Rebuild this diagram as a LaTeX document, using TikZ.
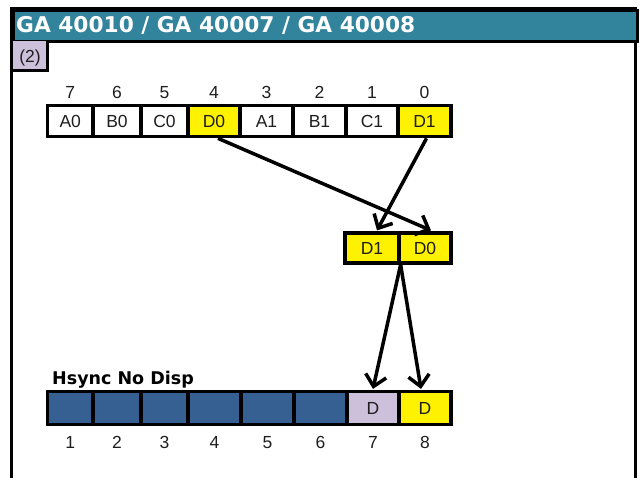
\documentclass[tikz,border=0pt]{standalone}
\usepackage{fontspec}
\setmainfont{Liberation Sans}
\newfontfamily\titlefont{DejaVu Sans}
\usetikzlibrary{arrows.meta}
\definecolor{teal1}{HTML}{31849B}
\definecolor{lilac}{HTML}{CCC0DA}
\definecolor{cellblue}{HTML}{376092}
\definecolor{txtgray}{HTML}{1E1E1E}
\begin{document}
\begin{tikzpicture}[x=1pt,y=-1pt,
  cell/.style={draw=black, line width=3.2pt, inner sep=0pt, text height=12.5pt, text depth=0pt,
               font=\fontsize{17.5}{17.5}\selectfont, text=txtgray},
  idx/.style={inner sep=0pt, anchor=base, font=\fontsize{17.5}{17.5}\selectfont, text=txtgray},
  arr/.style={line width=3.5pt, -{Straight Barb[length=11pt,width=21pt]}}]
\useasboundingbox (0,0) rectangle (640,477);
\clip (0,0) rectangle (640,477);
% frame
\draw[line width=3.2pt] (11.5,500) -- (11.5,9) -- (635.5,9) -- (635.5,500);
% header
\node[draw=black, line width=3.2pt, fill=teal1, minimum width=624pt, minimum height=30.5pt,
      anchor=north west, inner sep=0pt] (hdr) at (11.5,9) {};
\node[anchor=base west, inner sep=0pt, text=white,
      font=\titlefont\bfseries\fontsize{21.7}{21.7}\selectfont] (title) at (16,32) {GA 40010 / GA 40007 / GA 40008};
% tag (2)
\fill[lilac] (13,41) rectangle (46,69);
\draw[line width=3.2pt] (47.5,39.5) -- (47.5,70.5) -- (11.5,70.5);
\node[idx] (tag) at (30,62) {(2)};
% top register
\foreach \n/\a/\b/\t/\c in {7/47.5/93/A0/white, 6/93/141/B0/white, 5/141/188/C0/white, 4/188/240/D0/yellow,
                             3/240/293/A1/white, 2/293/346/B1/white, 1/346/398/C1/white, 0/398/451/D1/yellow}{
  \pgfmathsetmacro\w{\b-\a}
  \pgfmathsetmacro\m{(\a+\b)/2}
  \node[cell, fill=\c, minimum width=\w pt, minimum height=31.5pt] (t\n) at (\m,121) {\t};
  \node[idx] (tn\n) at (\m,98.5) {\n};
}
% middle pair
\node[cell, fill=yellow, minimum width=54pt, minimum height=30pt] (m1) at (372,248) {D1};
\node[cell, fill=yellow, minimum width=52pt, minimum height=30pt] (m0) at (425,248) {D0};
% bottom register
\foreach \n/\a/\b/\t/\c in {1/47.5/93//cellblue, 2/93/141//cellblue, 3/141/188//cellblue, 4/188/241//cellblue,
                             5/241/294//cellblue, 6/294/347//cellblue, 7/347/399/D/lilac, 8/399/451/D/yellow}{
  \pgfmathsetmacro\w{\b-\a}
  \pgfmathsetmacro\m{(\a+\b)/2}
  \node[cell, fill=\c, minimum width=\w pt, minimum height=33pt] (b\n) at (\m,408) {\t};
  \node[idx] (bn\n) at (\m,448.5) {\n};
}
\node[anchor=base west, inner sep=0pt, font=\titlefont\bfseries\fontsize{17.5}{17.5}\selectfont] (hs) at (52,384) {Hsync No Disp};
% arrows
\draw[arr] ([xshift=4pt]t4.south) -- ([xshift=6pt,yshift=1pt]m0.north);
\draw[arr] ([xshift=2pt]t0.south) -- ([xshift=5pt,yshift=1pt]m1.north);
\coordinate (split) at (m1.south east);
\draw[arr] (split) -- ([yshift=1pt]b7.north);
\draw[arr] (split) -- ([xshift=-4pt,yshift=1pt]b8.north);
\end{tikzpicture}
\end{document}
